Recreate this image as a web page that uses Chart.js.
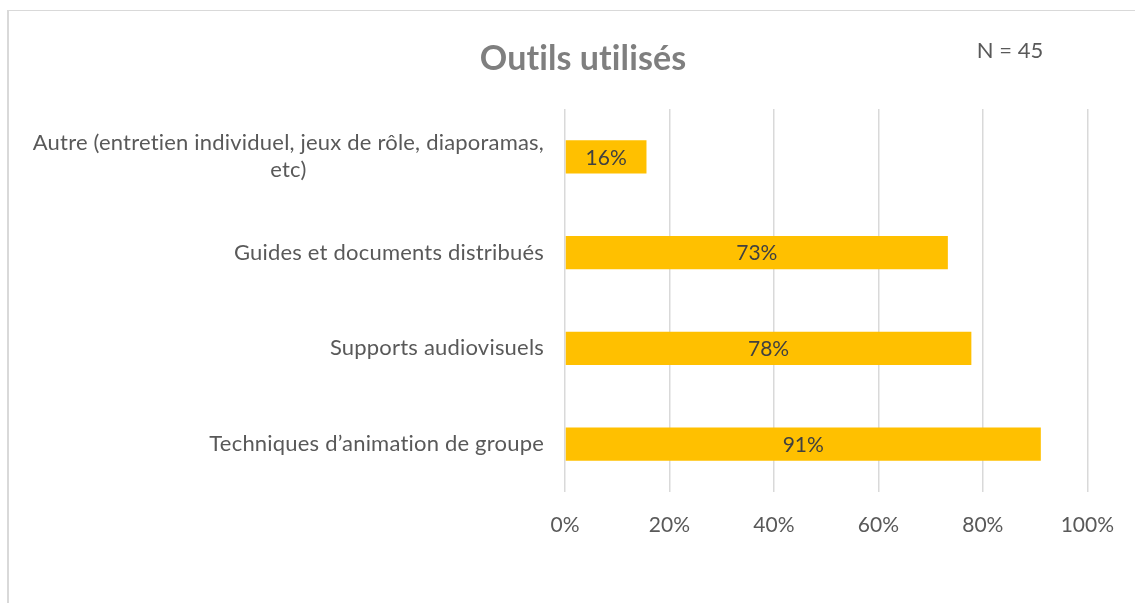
<!DOCTYPE html>
<html>
<head>
<meta charset="utf-8">
<script src="https://cdn.jsdelivr.net/npm/chart.js@4/dist/chart.umd.min.js"></script>
<style>
  html, body { margin: 0; padding: 0; background: #fff; }
  #wrap { position: relative; width: 1135px; height: 603px; overflow: hidden; }
  #frame { position: absolute; left: 7px; top: 10px; width: 1200px; height: 700px;
           border-top: 1px solid #d9d9d9; border-left: 2px solid #d9d9d9; }
  canvas { position: absolute; left: 0; top: 0; }
</style>
</head>
<body>
<div id="wrap">
  <div id="frame"></div>
  <canvas id="chart" width="1135" height="603"></canvas>
</div>
<script>
// données
const categories = [
    ['Autre (entretien individuel, jeux de rôle, diaporamas,', 'etc)'],
    ['Guides et documents distribués'],
    ['Supports audiovisuels'],
    ['Techniques d’animation de groupe']
];
const values = [15.6, 73.3, 77.8, 91.1];
const valueLabels = ['16%', '73%', '78%', '91%'];
const tickValues = [0, 20, 40, 60, 80, 100];

const FONT = 'Lato, "Open Sans", sans-serif';
const GRAY = '#595959';

// libellés des catégories (alignés à droite, lignes centrées entre elles)
const categoryLabels = {
    id: 'categoryLabels',
    afterDraw(chart) {
        const ctx = chart.ctx;
        const y = chart.scales.y;
        const right = chart.chartArea.left - 21;
        const lh = 27;
        ctx.save();
        ctx.font = '22px ' + FONT;
        ctx.letterSpacing = '0.2px';
        ctx.fillStyle = GRAY;
        ctx.textAlign = 'center';
        ctx.textBaseline = 'middle';
        categories.forEach((lines, i) => {
            const cy = y.getPixelForTick(i);
            const w = Math.max(...lines.map(l => ctx.measureText(l).width));
            const cx = right - w / 2;
            const top = cy - (lines.length - 1) * lh / 2;
            lines.forEach((l, j) => ctx.fillText(l, cx, top + j * lh));
        });
        ctx.restore();
    }
};

// étiquettes de valeur au centre des barres
const barLabels = {
    id: 'barLabels',
    afterDatasetsDraw(chart) {
        const ctx = chart.ctx;
        const meta = chart.getDatasetMeta(0);
        ctx.save();
        ctx.font = '21px ' + FONT;
        ctx.fillStyle = '#404040';
        ctx.textAlign = 'center';
        ctx.textBaseline = 'middle';
        meta.data.forEach((bar, i) => {
            ctx.fillText(valueLabels[i], (bar.base + bar.x) / 2, bar.y + 1);
        });
        ctx.restore();
    }
};

// titre et effectif
const titles = {
    id: 'titles',
    afterDraw(chart) {
        const ctx = chart.ctx;
        ctx.save();
        ctx.textAlign = 'center';
        ctx.textBaseline = 'middle';
        ctx.fillStyle = '#7f7f7f';
        ctx.font = 'bold 34px ' + FONT;
        ctx.letterSpacing = '0.1px';
        ctx.fillText('Outils utilisés', 583, 59);
        ctx.letterSpacing = '0px';
        ctx.fillStyle = GRAY;
        ctx.font = '22px ' + FONT;
        ctx.fillText('N = 45', 1010, 51);
        ctx.restore();
    }
};

new Chart(document.getElementById('chart'), {
    type: 'bar',
    data: {
        labels: categories.map(c => c.join(' ')),
        datasets: [{
            data: values,
            backgroundColor: '#FFC000',
            borderWidth: 0,
            barPercentage: 0.345,
            categoryPercentage: 1
        }]
    },
    options: {
        indexAxis: 'y',
        responsive: false,
        animation: false,
        devicePixelRatio: 1,
        layout: { padding: { left: 565, right: 44, top: 109, bottom: 0 } },
        plugins: {
            legend: { display: false },
            tooltip: { enabled: false },
            title: { display: false }
        },
        scales: {
            x: {
                min: 0,
                max: 100,
                afterBuildTicks(scale) {
                    scale.ticks = tickValues.map(v => ({ value: v }));
                },
                afterFit(scale) { scale.height = 111; },
                ticks: {
                    color: GRAY,
                    font: { family: FONT, size: 21 },
                    padding: 21,
                    callback: v => v + '%'
                },
                grid: { color: '#d9d9d9', lineWidth: 1.5, drawTicks: false },
                border: { display: false }
            },
            y: {
                ticks: { display: false },
                grid: { display: false },
                border: { display: false },
                afterFit(scale) { scale.width = 0; }
            }
        }
    },
    plugins: [categoryLabels, barLabels, titles]
});
</script>
</body>
</html>
